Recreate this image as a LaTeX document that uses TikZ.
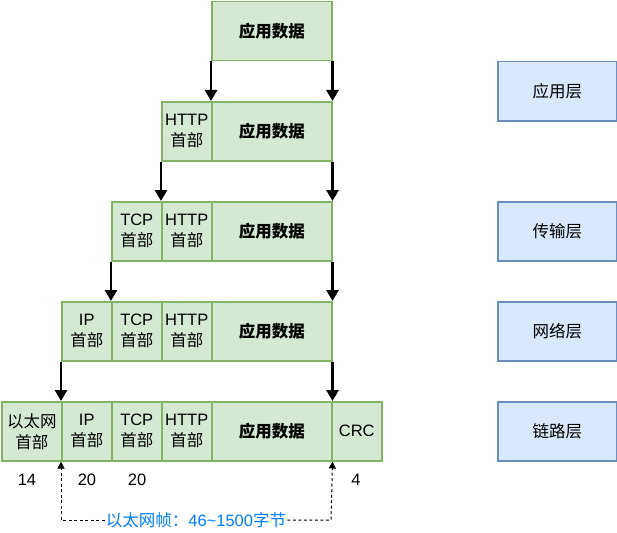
\documentclass[tikz,border=0pt]{standalone}
\usepackage{fontspec}
\setmainfont{Liberation Sans}
\newfontfamily\cjk{Noto Sans CJK SC}
\usetikzlibrary{arrows.meta}
\definecolor{gfill}{HTML}{D5E8D4}
\definecolor{gline}{HTML}{82B366}
\definecolor{bfill}{HTML}{DAE8FC}
\definecolor{bline}{HTML}{6C8EBF}
\definecolor{lblue}{HTML}{007FFF}
\tikzset{
  gbox/.style={draw=gline, fill=gfill, line width=1.5pt, rectangle, anchor=north west,
    minimum height=59pt, inner sep=0pt, align=center, font=\fontsize{16.5}{21}\selectfont},
  hbox/.style={gbox, minimum width=50pt},
  dbox/.style={gbox, minimum width=120pt, font=\fontsize{16.5}{21}\selectfont\cjk\bfseries},
  lbox/.style={draw=bline, fill=bfill, line width=1.5pt, rectangle, anchor=north west,
    minimum width=119pt, minimum height=59pt, font=\fontsize{16.5}{21}\selectfont\cjk},
  arr/.style={line width=2.8pt, -{Triangle[length=11pt,width=12pt]}},
  darr/.style={line width=1pt, dash pattern=on 3pt off 2.5pt, -{Triangle[length=7pt,width=7pt]}},
  num/.style={font=\fontsize{16.5}{21}\selectfont, inner sep=0pt}
}
\begin{document}
\begin{tikzpicture}[x=1pt,y=-1pt]
\useasboundingbox (0,0) rectangle (617,532);
% row 1
\node[dbox] (r1d) at (211,1) {应用数据};
% row 2
\node[hbox] (r2h) at (161,101) {HTTP\\{\cjk 首部}};
\node[dbox] (r2d) at (211,101) {应用数据};
% row 3
\node[hbox] (r3t) at (111,201) {TCP\\{\cjk 首部}};
\node[hbox] (r3h) at (161,201) {HTTP\\{\cjk 首部}};
\node[dbox] (r3d) at (211,201) {应用数据};
% row 4
\node[hbox] (r4i) at (61,301) {IP\\{\cjk 首部}};
\node[hbox] (r4t) at (111,301) {TCP\\{\cjk 首部}};
\node[hbox] (r4h) at (161,301) {HTTP\\{\cjk 首部}};
\node[dbox] (r4d) at (211,301) {应用数据};
% row 5
\node[hbox, minimum width=60pt] (r5e) at (1,401) {{\cjk 以太网}\\{\cjk 首部}};
\node[hbox] (r5i) at (61,401) {IP\\{\cjk 首部}};
\node[hbox] (r5t) at (111,401) {TCP\\{\cjk 首部}};
\node[hbox] (r5h) at (161,401) {HTTP\\{\cjk 首部}};
\node[dbox] (r5d) at (211,401) {应用数据};
\node[hbox] (r5c) at (331,401) {CRC};
% layers
\node[lbox] (l1) at (497,61) {应用层};
\node[lbox] (l2) at (497,201) {传输层};
\node[lbox] (l3) at (497,301) {网络层};
\node[lbox] (l4) at (497,401) {链路层};
% arrows
\draw[arr] (r1d.south west) -- (r2d.north west);
\draw[arr] (r1d.south east) -- (r2d.north east);
\draw[arr] (r2h.south west) -- (r3h.north west);
\draw[arr] (r2d.south east) -- (r3d.north east);
\draw[arr] (r3t.south west) -- (r4t.north west);
\draw[arr] (r3d.south east) -- (r4d.north east);
\draw[arr] (r4i.south west) -- (r5i.north west);
\draw[arr] (r4d.south east) -- (r5d.north east);
% sizes
\node[num] (n1) at (27,480) {14};
\node[num] (n2) at (87,480) {20};
\node[num] (n3) at (137,480) {20};
\node[num] (n4) at (356,480) {4};
% frame bracket
\coordinate (fL) at (61,520);
\coordinate (fR) at (331,520);
\node[fill=white, text=lblue, inner sep=1pt, font=\fontsize{16.5}{21}\selectfont] (lbl) at (196,520) {{\cjk 以太网帧：}46\textasciitilde 1500{\cjk 字节}};
\draw[darr] (lbl.west) -- (fL) -- (r5i.south west);
\draw[darr] (lbl.east) -- (fR) -- (r5d.south east);
\end{tikzpicture}
\end{document}
